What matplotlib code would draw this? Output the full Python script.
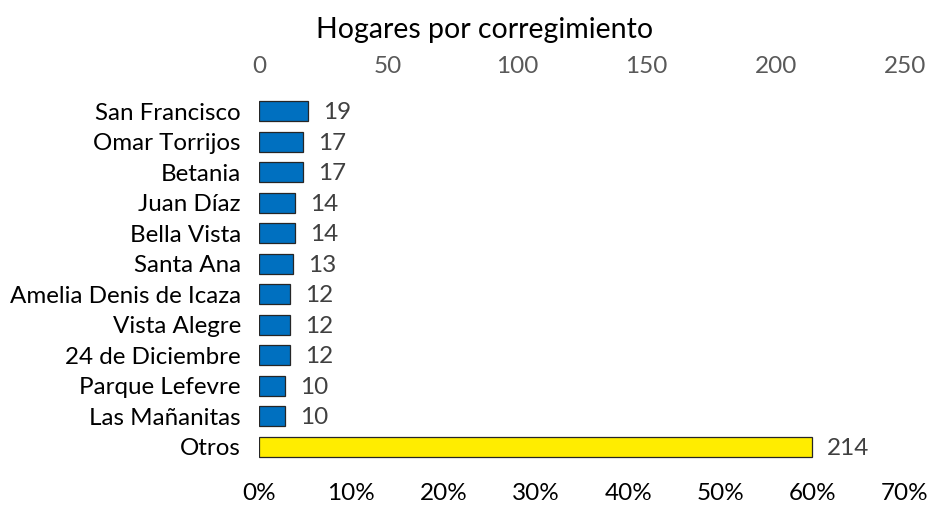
import matplotlib.pyplot as plt

plt.rcParams['font.family'] = ['Lato', 'DejaVu Sans']

categories = ["San Francisco", "Omar Torrijos", "Betania", "Juan Díaz", "Bella Vista",
              "Santa Ana", "Amelia Denis de Icaza", "Vista Alegre", "24 de Diciembre",
              "Parque Lefevre", "Las Mañanitas", "Otros"]
values = [19, 17, 17, 14, 14, 13, 12, 12, 12, 10, 10, 214]
colors = ["#0070C0"] * 11 + ["#FFED00"]

top_ticks = [0, 50, 100, 150, 200, 250]
pct_ticks = [0, 10, 20, 30, 40, 50, 60, 70]

fig = plt.figure(figsize=(9.27, 5.05), dpi=100)
ax = fig.add_axes([0.2794, 0.0851, 0.6969, 0.7248])

pos = list(range(len(categories)))
ax.barh(pos, values, height=0.65, color=colors, edgecolor="#262626", linewidth=0.9)
ax.set_ylim(len(categories) - 0.5, -0.5)
ax.set_xlim(0, 250)

for p, v in zip(pos, values):
    ax.annotate(str(v), (v, p), xytext=(11, -1), textcoords="offset points",
                va="center", ha="left", fontsize=17.5, color="#404040")

ax.set_yticks(pos)
ax.set_yticklabels(categories, fontsize=17.4, color="black")
ax.tick_params(axis="y", length=0, pad=13)

ax.xaxis.tick_top()
ax.set_xticks(top_ticks)
ax.set_xticklabels([str(t) for t in top_ticks], fontsize=17.5, color="#595959")
ax.tick_params(axis="x", length=0, pad=14)

sec = ax.secondary_xaxis("bottom", functions=(lambda x: x / 250 * 70, lambda p: p / 70 * 250))
sec.set_xticks(pct_ticks)
sec.set_xticklabels([f"{t}%" for t in pct_ticks], fontsize=17.5, color="black")
sec.tick_params(length=0, pad=15)
for s in sec.spines.values():
    s.set_visible(False)

for s in ax.spines.values():
    s.set_visible(False)

fig.text(0.523, 0.94, "Hogares por corregimiento", ha="center", va="center", fontsize=20.5)

fig.savefig("out.png", dpi=100)
